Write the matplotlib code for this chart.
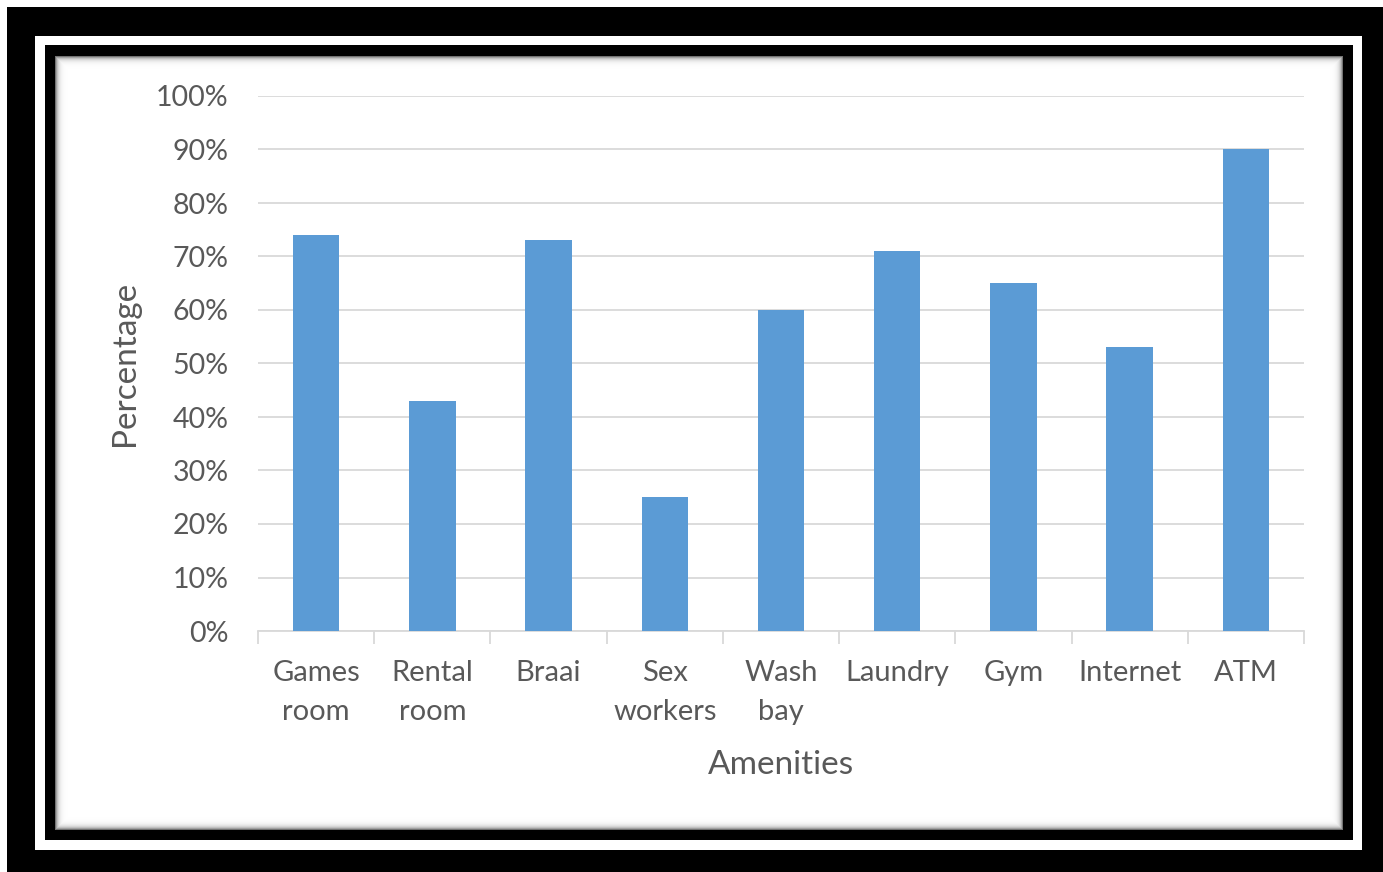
import matplotlib
matplotlib.use("Agg")
import matplotlib.pyplot as plt
import numpy as np

amenities = ["Games\nroom", "Rental\nroom", "Braai", "Sex\nworkers", "Wash\nbay",
             "Laundry", "Gym", "Internet", "ATM"]
percentages = [74, 43, 73, 25, 60, 71, 65, 53, 90]
y_ticks = list(range(0, 101, 10))

plt.rcParams["font.family"] = ["Lato", "DejaVu Sans"]
text_color = "#595959"
grid_color = "#D9D9D9"
bar_color = "#5B9BD5"

W, H = 1383, 872
fig = plt.figure(figsize=(W / 100, H / 100), dpi=100)

# Picture frame: black band, white gap, thin black band, shaded inner panel
frame = np.ones((H, W))
frame[8:, 7:] = 0.0
frame[37:850, 35:1362] = 1.0
frame[46:840, 45:1353] = 0.0
yy, xx = np.mgrid[0:H, 0:W]
x0, x1, y0, y1 = 55, 1343, 57, 830
inside = (xx >= x0) & (xx < x1) & (yy >= y0) & (yy < y1)
d = np.minimum.reduce([xx - x0, x1 - 1 - xx, yy - y0, y1 - 1 - yy]).astype(float)
shade = 1.0 - 0.55 * np.exp(-d / 2.5)
frame[inside] = shade[inside]

bg = fig.add_axes([0, 0, 1, 1], zorder=0)
bg.imshow(frame, cmap="gray", vmin=0, vmax=1, interpolation="nearest", aspect="auto")
bg.axis("off")

ax = fig.add_axes([258 / W, 1 - 631 / H, (1304 - 258) / W, (631 - 96) / H], zorder=1)
ax.patch.set_alpha(0)

x = np.arange(len(amenities))
ax.bar(x, percentages, width=0.4, color=bar_color, zorder=3)

ax.set_xlim(-0.5, len(amenities) - 0.5)
ax.set_ylim(0, 100)
ax.set_yticks(y_ticks)
ax.set_yticklabels([f"{t}%" for t in y_ticks])
ax.yaxis.grid(True, color=grid_color, linewidth=1.3, zorder=0)

ax.set_xticks(x)
ax.set_xticklabels(amenities, linespacing=1.62)
ax.set_xticks(np.arange(-0.5, len(amenities)), minor=True)
ax.tick_params(axis="x", which="major", length=0, pad=21, labelsize=21, labelcolor=text_color)
ax.tick_params(axis="x", which="minor", length=9, width=1.3, color=grid_color)
ax.tick_params(axis="y", length=0, pad=21, labelsize=20.5, labelcolor=text_color)

for side in ["top", "right", "left"]:
    ax.spines[side].set_visible(False)
ax.spines["bottom"].set_color(grid_color)
ax.spines["bottom"].set_linewidth(1.3)

ax.set_xlabel("Amenities", fontsize=24, color=text_color, labelpad=18)
ax.set_ylabel("Percentage", fontsize=24, color=text_color, labelpad=12)

fig.savefig("out.png", dpi=100)
